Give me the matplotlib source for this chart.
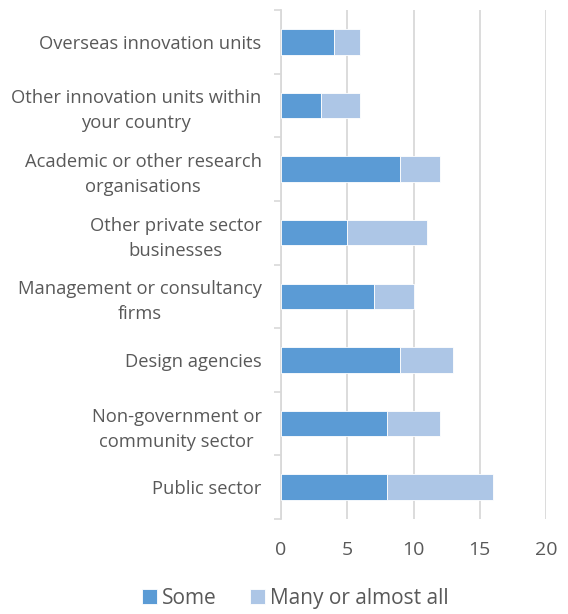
import numpy as np
import matplotlib.pyplot as plt

## Categories listed top to bottom as in the chart
categories = ['Overseas innovation units',
              'Other innovation units within\nyour country',
              'Academic or other research\norganisations',
              'Other private sector\nbusinesses',
              'Management or consultancy\nfirms',
              'Design agencies',
              'Non-government or\ncommunity sector',
              'Public sector']
some = [4, 3, 9, 5, 7, 9, 8, 8]
many = [2, 3, 3, 6, 3, 4, 4, 8]
xticks = [0, 5, 10, 15, 20]

plt.rcParams['font.family'] = ['Open Sans', 'DejaVu Sans']
grey = '#595959'

fig = plt.figure(figsize=(5.68, 6.14), dpi=100)
ax = fig.add_axes([0.4947, 0.1547, 0.4666, 0.829])

y = np.arange(len(categories))[::-1]
ax.barh(y, some, height=0.4, color='#5B9BD5', edgecolor='white', linewidth=0.6, label='Some', zorder=3)
ax.barh(y, many, left=some, height=0.4, color='#ADC6E6', edgecolor='white', linewidth=0.6,
        label='Many or almost all', zorder=3)

ax.set_xlim(0, 20)
ax.set_ylim(-0.5, len(categories) - 0.5)
ax.set_xticks(xticks)
ax.set_xticklabels([str(t) for t in xticks], fontsize=14, color=grey)
ax.set_yticks(y)
ax.set_yticklabels(categories, fontsize=13.2, color=grey, ha='right',
                   multialignment='center', linespacing=1.5)
ax.tick_params(axis='y', pad=14, length=0)
ax.tick_params(axis='x', length=0, pad=16)

## small category separator ticks on the left of the axis
ax.set_yticks(np.arange(-0.5, len(categories)), minor=True)
ax.tick_params(axis='y', which='minor', length=5, color='#D9D9D9', width=1.2)

ax.grid(axis='x', color='#D9D9D9', linewidth=1.3, zorder=0)
for s in ['top', 'right', 'bottom']:
    ax.spines[s].set_visible(False)
ax.spines['left'].set_color('#D9D9D9')
ax.spines['left'].set_linewidth(1.3)

fig.legend(loc='lower center', bbox_to_anchor=(0.52, -0.022), ncol=2, frameon=False,
           fontsize=15, handlelength=0.7, handleheight=0.7, columnspacing=1.6,
           handletextpad=0.25, labelcolor=grey)

fig.savefig('out.png', dpi=100)
